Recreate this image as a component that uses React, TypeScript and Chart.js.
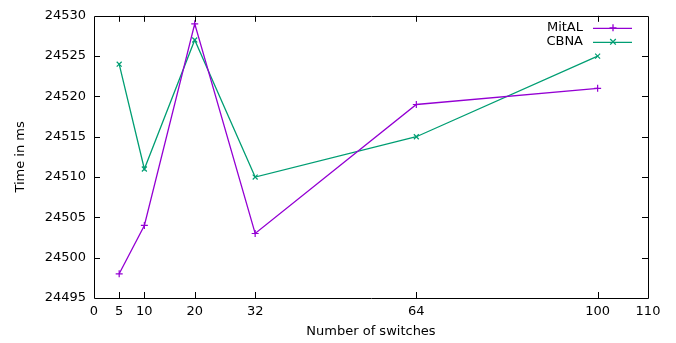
import React, { useEffect, useRef } from 'react';
import { Chart, registerables } from 'chart.js';

Chart.register(...registerables);

const switches = [5, 10, 20, 32, 64, 100];
const mitalTimes = [24498, 24504, 24529, 24503, 24519, 24521];
const cbnaTimes = [24524, 24511, 24527, 24510, 24515, 24525];
const xTickValues = [0, 5, 10, 20, 32, 64, 100, 110];
const yTickValues = [24495, 24500, 24505, 24510, 24515, 24520, 24525, 24530];
const seriesNames = ['MitAL', 'CBNA'];
const seriesColors = ['#9400d3', '#009e73'];
const seriesMarkers = ['cross', 'crossRot'];
const xTitle = 'Number of switches';
const yTitle = 'Time in ms';

const FONT = 'DejaVu Sans';

const framePlugin = {
  id: 'gnuFrame',
  afterDraw(chart: any) {
    const { ctx, chartArea } = chart;
    const { left, right, top, bottom } = chartArea;
    const xs = chart.scales.x;
    const ys = chart.scales.y;
    const tl = 6;
    ctx.save();
    ctx.strokeStyle = '#000';
    ctx.lineWidth = 1;
    ctx.beginPath();
    ctx.rect(Math.round(left) + 0.5, Math.round(top) + 0.5, Math.round(right - left), Math.round(bottom - top));
    ctx.stroke();
    ctx.beginPath();
    xTickValues.forEach((v) => {
      if (v === xs.min || v === xs.max) return;
      const px = Math.round(xs.getPixelForValue(v)) + 0.5;
      ctx.moveTo(px, bottom);
      ctx.lineTo(px, bottom - tl);
      ctx.moveTo(px, top);
      ctx.lineTo(px, top + tl);
    });
    yTickValues.forEach((v) => {
      if (v === ys.min || v === ys.max) return;
      const py = Math.round(ys.getPixelForValue(v)) + 0.5;
      ctx.moveTo(left, py);
      ctx.lineTo(left + tl, py);
      ctx.moveTo(right, py);
      ctx.lineTo(right - tl, py);
    });
    ctx.stroke();

    // legend
    ctx.font = `13px "${FONT}"`;
    ctx.textAlign = 'right';
    ctx.textBaseline = 'middle';
    seriesNames.forEach((name, i) => {
      const y = top + 12 + i * 14;
      ctx.fillStyle = '#000';
      ctx.fillText(name, right - 65, y);
      ctx.strokeStyle = seriesColors[i];
      ctx.lineWidth = 1.3;
      ctx.beginPath();
      ctx.moveTo(right - 55, y + 0.5);
      ctx.lineTo(right - 16, y + 0.5);
      ctx.stroke();
      const cx = right - 35;
      const r = 3.5;
      ctx.beginPath();
      if (seriesMarkers[i] === 'cross') {
        ctx.moveTo(cx, y - r);
        ctx.lineTo(cx, y + r);
        ctx.moveTo(cx - r, y);
        ctx.lineTo(cx + r, y);
      } else {
        const d = r * 0.8;
        ctx.moveTo(cx - d, y - d);
        ctx.lineTo(cx + d, y + d);
        ctx.moveTo(cx - d, y + d);
        ctx.lineTo(cx + d, y - d);
      }
      ctx.stroke();
    });
    ctx.restore();
  },
};

export default function App() {
  const ref = useRef<HTMLCanvasElement | null>(null);
  useEffect(() => {
    document.body.style.margin = '0';
    const canvas = ref.current;
    if (!canvas) return;
    const datasets = [mitalTimes, cbnaTimes].map((vals, i) => ({
      label: seriesNames[i],
      data: switches.map((x, j) => ({ x, y: vals[j] })),
      borderColor: seriesColors[i],
      backgroundColor: seriesColors[i],
      borderWidth: 1.3,
      pointStyle: seriesMarkers[i] as any,
      pointRadius: 3.5,
      pointBorderWidth: 1.2,
      pointBorderColor: seriesColors[i],
      tension: 0,
      fill: false,
    }));
    const chart = new Chart(canvas, {
      type: 'line',
      data: { datasets },
      options: {
        animation: false,
        responsive: false,
        devicePixelRatio: 1,
        layout: { padding: { top: 13, right: 28, left: 0, bottom: 0 } },
        plugins: { legend: { display: false }, tooltip: { enabled: false } },
        scales: {
          x: {
            type: 'linear',
            min: 0,
            max: 110,
            afterBuildTicks: (scale: any) => {
              scale.ticks = xTickValues.map((v) => ({ value: v }));
            },
            afterFit: (scale: any) => {
              scale.height = 45;
            },
            grid: { display: false, drawTicks: false },
            border: { display: false },
            ticks: {
              color: '#000',
              font: { family: FONT, size: 13 },
              padding: 6,
              maxRotation: 0,
              autoSkip: false,
              callback: (v: any) => String(v),
            },
            title: {
              display: true,
              text: xTitle,
              color: '#000',
              font: { family: FONT, size: 13 },
              padding: { top: 0, bottom: 4 },
            },
          },
          y: {
            type: 'linear',
            min: 24495,
            max: 24530,
            afterBuildTicks: (scale: any) => {
              scale.ticks = yTickValues.map((v) => ({ value: v }));
            },
            afterFit: (scale: any) => {
              scale.width = 94;
            },
            grid: { display: false, drawTicks: false },
            border: { display: false },
            ticks: {
              color: '#000',
              font: { family: FONT, size: 13 },
              padding: 8,
              autoSkip: false,
              callback: (v: any) => String(v),
            },
            title: {
              display: true,
              text: yTitle,
              color: '#000',
              font: { family: FONT, size: 13 },
              padding: { top: 13, bottom: 0 },
            },
          },
        },
      },
      plugins: [framePlugin],
    });
    return () => chart.destroy();
  }, []);
  return <canvas ref={ref} width={676} height={343} style={{ display: 'block' }} />;
}
